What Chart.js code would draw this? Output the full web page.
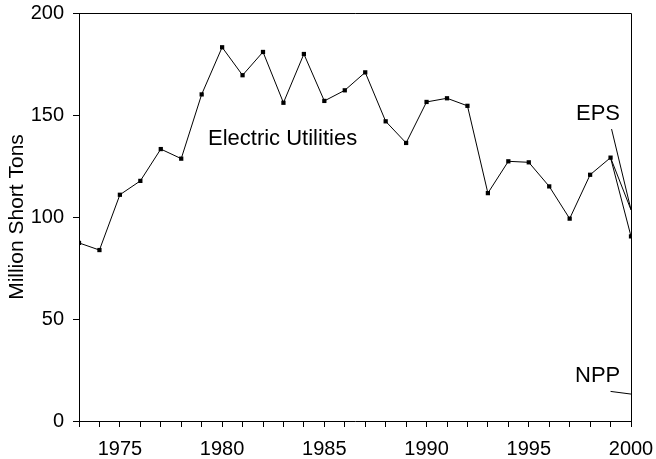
<!DOCTYPE html>
<html>
<head>
<meta charset="utf-8">
<script src="https://cdn.jsdelivr.net/npm/chart.js@4"></script>
<style>
  html, body { margin: 0; padding: 0; background: #fff; }
  #wrap { width: 656px; height: 459px; }
</style>
</head>
<body>
<div id="wrap"><canvas id="coalChart" width="656" height="459"></canvas></div>
<script>
// Years on the x axis
const years = [1973, 1974, 1975, 1976, 1977, 1978, 1979, 1980, 1981, 1982,
               1983, 1984, 1985, 1986, 1987, 1988, 1989, 1990, 1991, 1992,
               1993, 1994, 1995, 1996, 1997, 1998, 1999, 2000];
// Electric Utilities, million short tons
const utilities = [87.3, 83.8, 110.9, 117.7, 133.3, 128.6, 160.1, 183.2, 169.5, 180.9,
                   156.0, 179.9, 156.9, 162.1, 170.9, 146.9, 136.3, 156.4, 158.2, 154.5,
                   111.7, 127.3, 126.8, 115.0, 99.2, 120.7, 129.1, 90.5];
// Electric Power Sector (last segment only)
const epsYears = [1999, 2000];
const epsValues = [129.1, 103.5];
// leader lines for the labels
const epsLeaderYears = [1999.05, 2000];
const epsLeaderValues = [143.1, 103.5];
const nppLeaderYears = [1999, 2000];
const nppLeaderValues = [14.5, 13.2];
const yTicks = [0, 50, 100, 150, 200];

const FONT = "'Liberation Sans', Arial, sans-serif";

function toPoints(xs, ys) {
    return xs.map((x, i) => ({ x: x, y: ys[i] }));
}

// Frame around the plot + text labels
const framePlugin = {
    id: 'frame',
    afterDraw(chart) {
        const ctx = chart.ctx;
        const a = chart.chartArea;
        ctx.save();
        ctx.strokeStyle = '#000';
        ctx.lineWidth = 1;
        ctx.beginPath();
        ctx.moveTo(a.left, a.top + 0.5);
        ctx.lineTo(a.right + 0.5, a.top + 0.5);
        ctx.lineTo(a.right + 0.5, a.bottom);
        ctx.stroke();

        ctx.fillStyle = '#000';
        ctx.font = '22px ' + FONT;
        ctx.textBaseline = 'alphabetic';
        ctx.textAlign = 'left';
        ctx.fillText('Electric Utilities', 208, 145);
        ctx.fillText('EPS', 576, 120);
        ctx.fillText('NPP', 575, 382);
        ctx.restore();
    }
};

const lineStyle = {
    borderColor: '#000',
    borderWidth: 1,
    pointRadius: 0,
    tension: 0,
    fill: false
};

const ctx = document.getElementById('coalChart').getContext('2d');
const coalChart = new Chart(ctx, {
    type: 'line',
    data: {
        datasets: [
            {
                label: 'Electric Utilities',
                data: toPoints(years, utilities),
                borderColor: '#000',
                borderWidth: 1,
                pointStyle: 'rect',
                pointRadius: 3,
                pointBorderWidth: 0,
                pointBackgroundColor: '#000',
                tension: 0,
                fill: false
            },
            Object.assign({ label: 'EPS', data: toPoints(epsYears, epsValues) }, lineStyle),
            Object.assign({ label: 'EPS leader', data: toPoints(epsLeaderYears, epsLeaderValues) }, lineStyle),
            Object.assign({ label: 'NPP leader', data: toPoints(nppLeaderYears, nppLeaderValues) }, lineStyle)
        ]
    },
    options: {
        responsive: false,
        animation: false,
        layout: { autoPadding: false, padding: { top: 13, right: 25, left: 0, bottom: 0 } },
        plugins: {
            legend: { display: false },
            tooltip: { enabled: false }
        },
        scales: {
            x: {
                type: 'linear',
                min: 1973,
                max: 2000,
                afterFit: function(scale) {
                    scale.height = 38;
                    scale.paddingLeft = 0;
                    scale.paddingRight = 0;
                },
                grid: { drawOnChartArea: false, color: '#000', tickLength: 6, lineWidth: 1 },
                border: { color: '#000', width: 1 },
                ticks: {
                    stepSize: 1,
                    autoSkip: false,
                    maxRotation: 0,
                    padding: 10,
                    color: '#000',
                    font: { family: FONT, size: 20 },
                    callback: v => (v % 5 === 0 ? String(v) : '')
                }
            },
            y: {
                min: 0,
                max: 200,
                afterFit: function(scale) {
                    scale.width = 79;
                    scale.paddingTop = 0;
                    scale.paddingBottom = 0;
                },
                afterBuildTicks: function(scale) {
                    scale.ticks = yTicks.map(v => ({ value: v }));
                },
                grid: { drawOnChartArea: false, color: '#000', tickLength: 6, lineWidth: 1 },
                border: { color: '#000', width: 1 },
                title: {
                    display: true,
                    text: 'Million Short Tons',
                    color: '#000',
                    font: { family: FONT, size: 21 },
                    padding: { top: 5, bottom: 0 }
                },
                ticks: {
                    padding: 9,
                    color: '#000',
                    font: { family: FONT, size: 20 }
                }
            }
        }
    },
    plugins: [framePlugin]
});
</script>
</body>
</html>
